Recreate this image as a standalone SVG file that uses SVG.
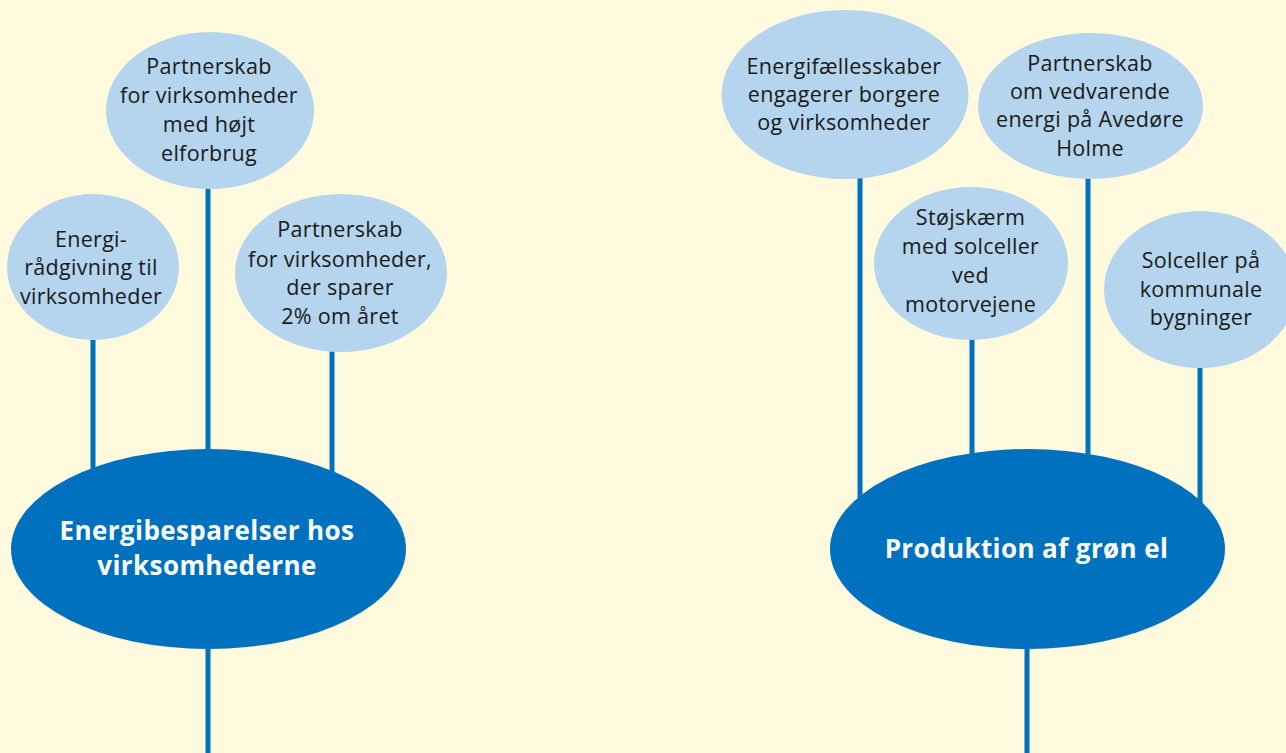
<svg xmlns="http://www.w3.org/2000/svg" width="1286" height="753" viewBox="0 0 1286 753">
<style>
.bg{fill:#FFFADD}
.small{fill:#B4D5ED}
.big{fill:#0071BF}
.conn{stroke:#0071BF;stroke-width:5;fill:none}
.t{font-family:"Open Sans","Liberation Sans",sans-serif;font-size:21.5px;letter-spacing:0.3px;fill:#1A1A1A;text-anchor:middle}
.tb{font-family:"Open Sans","Liberation Sans",sans-serif;font-size:26px;letter-spacing:0.4px;font-weight:bold;fill:#FFFFFF;text-anchor:middle}
</style>
<rect class="bg" x="0" y="0" width="1286" height="753"/>
<g id="connectors">
<line class="conn" x1="93" y1="330" x2="93" y2="500"/>
<line class="conn" x1="208" y1="180" x2="208" y2="500"/>
<line class="conn" x1="332" y1="340" x2="332" y2="500"/>
<line class="conn" x1="208" y1="600" x2="208" y2="753"/>
<line class="conn" x1="860" y1="170" x2="860" y2="520"/>
<line class="conn" x1="972" y1="330" x2="972" y2="520"/>
<line class="conn" x1="1088" y1="170" x2="1088" y2="520"/>
<line class="conn" x1="1200" y1="360" x2="1200" y2="520"/>
<line class="conn" x1="1027" y1="600" x2="1027" y2="753"/>
</g>
<g id="n-hoejt-elforbrug">
<ellipse class="small" cx="210" cy="110.5" rx="104" ry="78.5"/>
<text class="t" x="209" y="74">Partnerskab</text>
<text class="t" x="209" y="103">for virksomheder</text>
<text class="t" x="209" y="132">med højt</text>
<text class="t" x="209" y="161">elforbrug</text>
</g>
<g id="n-energiraadgivning">
<ellipse class="small" cx="93" cy="267" rx="86" ry="73"/>
<text class="t" x="91" y="246.5">Energi-</text>
<text class="t" x="91" y="275">rådgivning til</text>
<text class="t" x="91" y="303.5">virksomheder</text>
</g>
<g id="n-sparer-2pct">
<ellipse class="small" cx="341" cy="273" rx="106" ry="79"/>
<text class="t" x="340" y="237">Partnerskab</text>
<text class="t" x="340" y="266.5">for virksomheder,</text>
<text class="t" x="340" y="295">der sparer</text>
<text class="t" x="340" y="323.5">2% om året</text>
</g>
<g id="n-energibesparelser">
<ellipse class="big" cx="208.5" cy="549" rx="197.5" ry="100"/>
<text class="tb" x="207" y="540">Energibesparelser hos</text>
<text class="tb" x="207" y="575">virksomhederne</text>
</g>
<g id="n-energifaellesskaber">
<ellipse class="small" cx="845" cy="94.5" rx="123.5" ry="84.5"/>
<text class="t" x="844" y="74">Energifællesskaber</text>
<text class="t" x="844" y="102">engagerer borgere</text>
<text class="t" x="844" y="130">og virksomheder</text>
</g>
<g id="n-avedoere">
<ellipse class="small" cx="1090.5" cy="106" rx="112.5" ry="73"/>
<text class="t" x="1090" y="70.5">Partnerskab</text>
<text class="t" x="1090" y="98.5">om vedvarende</text>
<text class="t" x="1090" y="127">energi på Avedøre</text>
<text class="t" x="1090" y="155.5">Holme</text>
</g>
<g id="n-stoejskaerm">
<ellipse class="small" cx="971" cy="263.5" rx="97" ry="76.5"/>
<text class="t" x="970.5" y="225">Støjskærm</text>
<text class="t" x="970.5" y="253.5">med solceller</text>
<text class="t" x="970.5" y="282.5">ved</text>
<text class="t" x="970.5" y="311.5">motorvejene</text>
</g>
<g id="n-solceller-kommunale">
<ellipse class="small" cx="1200" cy="289.5" rx="96" ry="78.5"/>
<text class="t" x="1201" y="268">Solceller på</text>
<text class="t" x="1201" y="297">kommunale</text>
<text class="t" x="1201" y="325">bygninger</text>
</g>
<g id="n-groen-el">
<ellipse class="big" cx="1027.5" cy="549" rx="197.5" ry="100"/>
<text class="tb" x="1026.5" y="558">Produktion af grøn el</text>
</g>
</svg>
